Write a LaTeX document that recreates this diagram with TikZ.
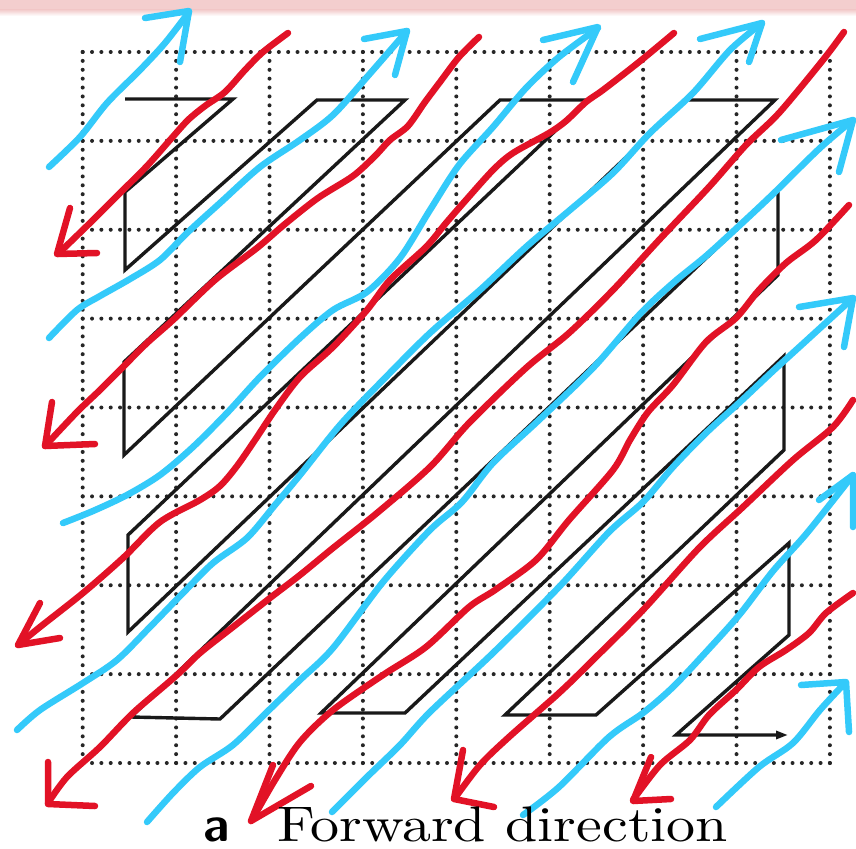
\documentclass[tikz,border=0pt]{standalone}
\usepackage{graphicx}
\usetikzlibrary{arrows.meta}
\definecolor{hred}{RGB}{226,18,38}
\definecolor{hblue}{RGB}{52,202,250}
\definecolor{band}{RGB}{243,206,206}
\tikzset{
  redstroke/.style={draw=hred, line width=6.5pt, line cap=round, line join=round},
  bluestroke/.style={draw=hblue, line width=6.5pt, line cap=round, line join=round},
  gridh/.style={draw=black!85, line width=4pt, line cap=round, dash pattern=on 0pt off 9.34pt},
  gridv/.style={draw=black!85, line width=4pt, line cap=round, dash pattern=on 0pt off 8.8875pt},
  scan/.style={draw=black!90, line width=3.4pt, line join=miter},
  wavy/.style={smooth, tension=0.5}
}
\begin{document}
\begin{tikzpicture}[x=1pt, y=-1pt]
\useasboundingbox (0,0) rectangle (856,848);
\fill[white] (0,0) rectangle (856,848);
\fill[band] (0,0) rectangle (856,10);
\shade[top color=band, bottom color=white] (0,10) rectangle (856,16);

% dotted grid
\foreach \i in {0,...,8} {
  \draw[gridv] ({82.7+\i*93.4},52) -- ({82.7+\i*93.4},763);
  \draw[gridh] (82.7,{52+\i*88.875}) -- (829.9,{52+\i*88.875});
}

% zigzag scan path
\draw[scan, -{Triangle[length=12pt,width=8pt]}]
  (125,99) -- (233,99) -- (125,192) -- (125,270) -- (317,100) -- (405,100)
  -- (124,362) -- (124,455) -- (500,100) -- (588,100) -- (128,535) -- (128,632)
  -- (686,100) -- (775,100) -- (131,717) -- (220,719) -- (778,190) -- (778,275)
  -- (321,713) -- (405,713) -- (784,356) -- (784,450) -- (505,715) -- (596,715)
  -- (789,543) -- (789,635) -- (676,735) -- (788,735);

% blue strokes
\draw[bluestroke] plot[wavy] coordinates {(49,167) (80,137) (107,103) (140,70) (165,43) (189,12)};
\draw[bluestroke] (145,18) -- (189,11) -- (180,62);

\draw[bluestroke] plot[wavy] coordinates {(49,338) (77,310) (100,296) (130,279) (160,260) (187,233) (220,203) (260,167) (300,140) (333,115) (367,77) (407,31)};
\draw[bluestroke] (364,39) -- (407,31) -- (395,75);

\draw[bluestroke] plot[wavy] coordinates {(63,523) (93,511) (127,495) (160,475) (193,447) (227,413) (260,377) (300,338) (333,310) (367,292) (400,258) (430,210) (459,165) (493,127) (526,88) (559,57) (598,28)};
\draw[bluestroke] (543,40) -- (598,27) -- (573,82);

\draw[bluestroke] plot[wavy] coordinates {(17,730) (40,710) (83,683) (117,660) (150,627) (183,593) (213,563) (247,538) (275,505) (300,475) (340,425) (383,380) (430,333) (480,290) (526,247) (570,210) (613,173) (650,133) (693,93) (730,50) (762,23)};
\draw[bluestroke] (700,39) -- (762,23) -- (749,62);

\draw[bluestroke] plot[wavy] coordinates {(147,822) (173,793) (200,767) (233,745) (267,712) (300,680) (333,648) (383,582) (430,530) (462,502) (493,463) (539,420) (593,368) (640,314) (673,283) (706,256) (740,225) (773,194) (820,148) (853,120)};
\draw[bluestroke] (781,140) -- (853,120) -- (839,172);

\draw[bluestroke] plot[wavy] coordinates {(332,812) (367,777) (400,745) (430,712) (493,653) (559,587) (609,532) (643,502) (673,467) (706,433) (740,402) (773,371) (807,340) (853,298)};
\draw[bluestroke] (799,307) -- (853,298) -- (844,347);

\draw[bluestroke] plot[wavy] coordinates {(523,815) (559,787) (609,737) (643,713) (673,687) (706,652) (740,614) (773,571) (807,533) (853,475)};
\draw[bluestroke] (819,500) -- (853,475) -- (853,527);

\draw[bluestroke] plot[wavy] coordinates {(716,807) (759,767) (793,743) (820,710) (845,683)};
\draw[bluestroke] (801,685) -- (846,682) -- (849,732);

% red strokes
\draw[redstroke] plot[wavy] coordinates {(288,33) (263,52) (245,70) (225,92) (205,106) (188,120) (170,140) (147,166) (120,193) (93,220) (58,254)};
\draw[redstroke] (70,208) -- (57,254) -- (97,253);

\draw[redstroke] plot[wavy] coordinates {(479,37) (459,57) (440,82) (425,102) (408,126) (390,140) (375,156) (353,176) (318,198) (285,224) (257,248) (215,280) (173,320) (147,343) (123,367) (100,390) (77,412) (45,446)};
\draw[redstroke] (52,402) -- (45,446) -- (95,444);

\draw[redstroke] plot[wavy] coordinates {(674,33) (639,62) (603,90) (586,102) (566,121) (549,133) (513,153) (493,170) (466,200) (446,223) (426,247) (390,280) (367,310) (333,347) (300,377) (275,410) (255,440) (237,466) (220,486) (200,500) (160,522) (123,558) (83,593) (40,627) (18,645)};
\draw[redstroke] (40,603) -- (18,645) -- (60,638);

\draw[redstroke] plot[wavy] coordinates {(844,32) (823,60) (779,113) (746,145) (709,187) (659,240) (613,290) (569,333) (526,368) (469,423) (430,467) (377,513) (333,548) (300,575) (270,598) (233,627) (200,653) (177,675) (133,713) (100,747) (67,777) (48,803)};
\draw[redstroke] (48,762) -- (48,804) -- (95,806);

\draw[redstroke] plot[wavy] coordinates {(849,205) (816,240) (786,263) (759,290) (736,318) (706,342) (673,385) (648,412) (630,440) (613,470) (569,520) (536,560) (495,590) (469,607) (426,647) (383,675) (333,710) (300,742) (275,780) (252,820)};
\draw[redstroke] (273,765) -- (251,821) -- (311,786);

\draw[redstroke] plot[wavy] coordinates {(853,400) (833,427) (793,460) (743,507) (699,548) (643,610) (593,660) (559,693) (509,737) (480,765) (455,798)};
\draw[redstroke] (463,750) -- (454,799) -- (494,807);

\draw[redstroke] plot[wavy] coordinates {(853,593) (826,613) (809,633) (786,650) (759,667) (736,690) (709,715) (690,740) (660,765) (633,800)};
\draw[redstroke] (651,757) -- (633,801) -- (671,799);

% caption
\node[anchor=base west, inner sep=0pt] (sublabel) at (203,841)
  {\scalebox{5.0}{\fontsize{10}{12}\selectfont\sffamily\bfseries a}};
\node[anchor=base west, inner sep=0pt] (caption) at (277,841)
  {\scalebox{5.8}[5.0]{\fontsize{10}{12}\selectfont Forward direction}};
\end{tikzpicture}
\end{document}
